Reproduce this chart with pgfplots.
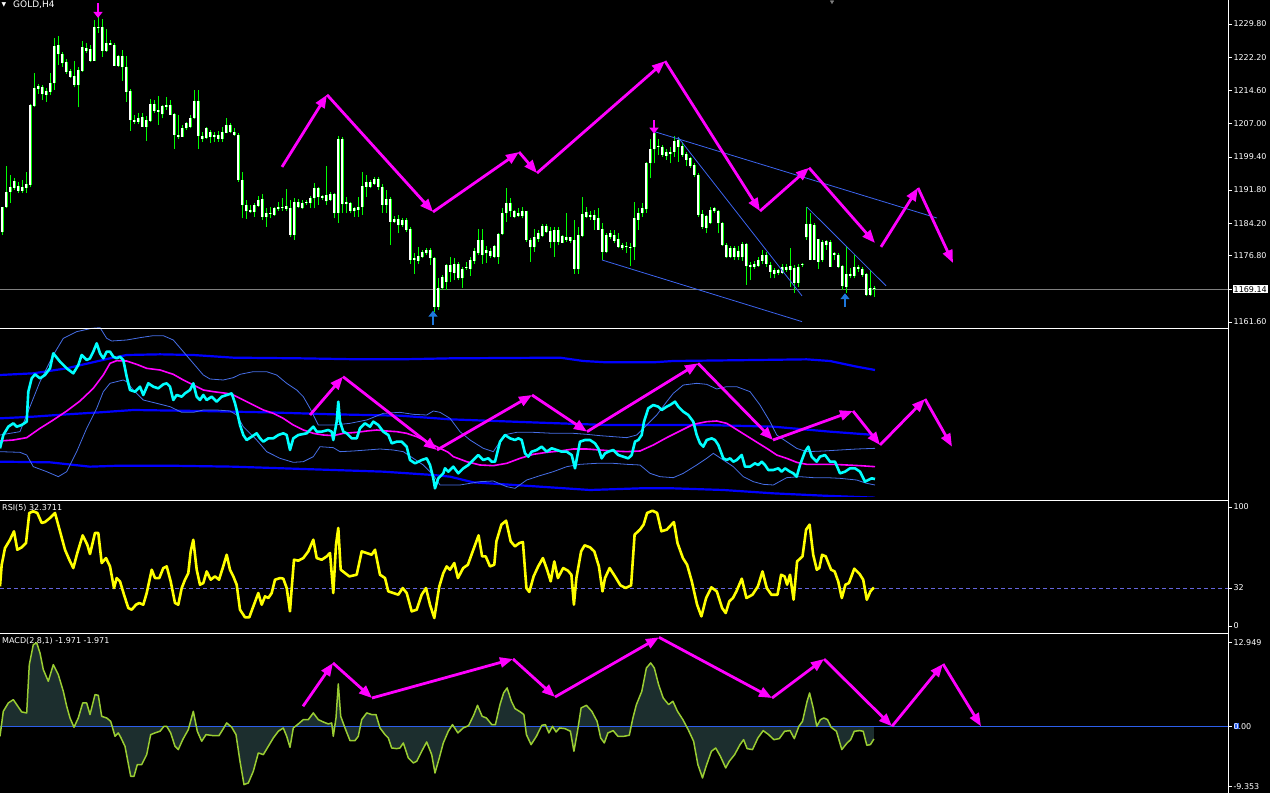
\documentclass[border=0pt]{standalone}
\usepackage{pgfplots}
\pgfplotsset{compat=1.18}
\usepackage{pgfplotstable}
\usepackage{fontspec}
\setmainfont{DejaVu Sans}
\usetikzlibrary{arrows.meta}

\definecolor{mtlime}{RGB}{0,255,0}
\definecolor{mtmag}{RGB}{255,0,255}
\definecolor{mtcyan}{RGB}{0,255,255}
\definecolor{mtblue}{RGB}{0,0,255}
\definecolor{mtband}{RGB}{70,110,230}
\definecolor{mttl}{RGB}{60,100,240}
\definecolor{mtyel}{RGB}{255,255,0}
\definecolor{mtmacd}{RGB}{154,205,50}
\definecolor{mthist}{RGB}{28,46,46}
\definecolor{mtlvl}{RGB}{100,100,220}
\definecolor{mtzero}{RGB}{45,95,235}
\definecolor{mtarr}{RGB}{30,120,220}
\definecolor{mtgray}{RGB}{128,128,128}

\newcommand{\tickfont}{\fontsize{8}{9}\selectfont}

% GOLD H4 candles: x (pixel column), high, low, body top, body bottom
\pgfplotstableread{
x hi lo top bot
2 1188.0 1181.5 1187.9 1182.1
6 1197.2 1187.6 1191.3 1187.9
10 1195.2 1188.8 1192.4 1191.4
14 1194.5 1191.8 1193.9 1192.3
18 1193.7 1191.1 1192.7 1191.7
22 1194.1 1191.2 1192.4 1191.6
26 1196.0 1191.1 1193.2 1192.3
30 1211.6 1192.4 1211.3 1193.0
34 1218.5 1210.9 1215.1 1211.0
38 1216.1 1213.8 1215.6 1214.9
42 1215.8 1212.4 1215.3 1213.7
46 1215.1 1212.0 1214.5 1213.5
50 1218.7 1213.5 1216.2 1214.3
54 1226.7 1214.7 1224.8 1216.2
58 1227.1 1220.4 1225.0 1222.9
62 1223.5 1220.0 1222.9 1220.8
66 1221.7 1218.4 1221.0 1218.9
70 1219.6 1217.4 1219.0 1217.7
74 1221.4 1215.3 1217.9 1215.8
78 1220.0 1210.7 1219.3 1215.8
82 1225.8 1218.9 1224.5 1219.1
86 1225.4 1223.1 1224.4 1223.6
90 1225.0 1221.2 1224.0 1221.3
94 1230.6 1221.4 1229.0 1221.4
98 1231.4 1227.7 1229.2 1228.8
102 1230.9 1222.3 1229.0 1223.7
106 1228.6 1223.5 1225.5 1223.7
110 1226.1 1225.0 1225.5 1225.1
114 1225.5 1220.2 1225.1 1220.3
118 1222.7 1220.0 1222.5 1220.3
122 1223.9 1216.8 1222.5 1219.9
126 1222.5 1212.0 1219.9 1214.3
130 1214.9 1205.4 1214.5 1207.8
134 1209.0 1206.9 1207.8 1207.4
138 1209.4 1206.9 1208.4 1207.4
142 1209.4 1206.2 1208.6 1206.3
146 1208.8 1203.1 1207.8 1206.3
150 1212.6 1207.4 1211.5 1207.6
154 1212.4 1209.5 1211.5 1209.9
158 1213.3 1206.8 1210.1 1209.7
162 1211.3 1208.2 1211.0 1209.1
166 1213.2 1210.1 1211.3 1210.9
170 1212.4 1209.0 1211.3 1209.0
174 1209.4 1201.3 1209.2 1204.4
178 1209.0 1203.6 1204.5 1203.9
182 1206.7 1203.9 1206.1 1204.0
186 1207.4 1205.5 1207.1 1205.9
190 1209.0 1205.9 1208.4 1206.3
194 1214.7 1208.0 1212.2 1208.2
198 1214.7 1201.3 1212.2 1204.2
202 1205.2 1202.9 1204.2 1203.6
206 1206.3 1203.4 1205.9 1203.8
210 1205.5 1202.6 1205.2 1204.0
214 1205.2 1202.9 1204.4 1203.9
218 1205.4 1202.9 1204.4 1203.6
222 1206.3 1202.9 1205.0 1203.6
226 1208.4 1204.8 1206.8 1204.9
230 1207.1 1204.9 1206.7 1205.2
234 1205.9 1204.2 1205.0 1204.4
238 1204.8 1193.7 1204.4 1194.1
242 1196.0 1185.3 1194.2 1188.4
246 1189.5 1185.2 1188.4 1186.9
250 1188.4 1186.5 1187.2 1186.7
254 1188.8 1185.7 1188.4 1186.7
258 1190.4 1187.9 1189.5 1188.2
262 1191.0 1184.9 1189.7 1185.6
266 1187.6 1183.4 1186.5 1185.6
270 1188.0 1185.3 1186.6 1186.3
274 1188.0 1185.9 1187.6 1186.1
278 1189.1 1187.1 1188.0 1187.4
282 1189.9 1187.1 1188.0 1187.6
286 1192.0 1187.1 1188.1 1187.5
290 1189.5 1181.1 1187.6 1181.5
294 1189.9 1180.4 1189.1 1181.5
298 1189.7 1187.6 1189.1 1188.0
302 1189.5 1187.4 1188.9 1187.6
306 1189.5 1188.4 1189.1 1188.8
310 1190.4 1187.6 1189.9 1188.8
314 1193.5 1187.6 1192.2 1189.9
318 1192.6 1188.4 1192.2 1190.3
322 1190.7 1189.5 1190.4 1190.1
326 1197.2 1188.4 1190.7 1189.2
330 1191.4 1189.2 1191.0 1189.5
334 1191.2 1185.3 1190.9 1186.5
338 1204.2 1184.3 1203.6 1186.5
342 1204.0 1186.5 1203.6 1188.6
346 1190.3 1186.5 1189.1 1188.6
350 1189.1 1186.5 1188.8 1187.1
354 1188.0 1185.7 1187.6 1186.9
358 1190.3 1185.7 1188.0 1187.2
362 1196.0 1186.1 1192.7 1187.9
366 1195.2 1190.3 1193.7 1192.6
370 1194.1 1192.2 1193.7 1192.6
374 1194.9 1193.0 1194.3 1193.2
378 1194.9 1191.8 1194.3 1192.6
382 1193.3 1186.5 1192.6 1188.4
386 1191.8 1186.5 1189.7 1188.4
390 1190.3 1179.2 1189.7 1184.6
394 1185.9 1184.2 1185.1 1184.6
398 1186.1 1181.9 1185.1 1183.8
402 1185.3 1183.4 1185.0 1183.8
406 1185.3 1182.3 1185.0 1182.7
410 1183.4 1175.0 1183.0 1175.9
414 1177.3 1172.6 1176.2 1175.8
418 1178.7 1174.9 1176.7 1175.6
422 1178.1 1176.2 1177.7 1176.6
426 1178.5 1176.9 1178.1 1177.3
430 1178.5 1174.7 1178.1 1176.2
434 1176.6 1164.0 1176.2 1165.1
438 1171.6 1164.4 1169.3 1165.1
442 1172.4 1168.9 1172.0 1169.3
446 1175.0 1168.9 1174.7 1170.8
450 1176.6 1170.8 1174.7 1173.1
454 1176.2 1171.2 1175.0 1172.9
458 1175.4 1171.2 1175.0 1171.6
462 1174.3 1169.5 1173.7 1171.6
466 1175.4 1173.5 1174.3 1173.9
470 1176.6 1172.1 1175.8 1173.7
474 1178.5 1174.9 1177.9 1175.6
478 1182.8 1176.9 1180.4 1177.3
482 1182.8 1175.0 1180.4 1176.9
486 1178.9 1175.2 1178.2 1177.3
490 1178.5 1176.2 1177.9 1176.7
494 1179.2 1176.2 1178.9 1176.6
498 1181.9 1175.0 1181.7 1176.6
502 1187.6 1181.5 1186.5 1181.7
506 1192.2 1184.6 1188.9 1186.5
510 1189.9 1185.7 1188.9 1186.9
514 1187.2 1185.3 1186.9 1185.7
518 1187.6 1185.6 1186.5 1185.9
522 1188.0 1185.3 1186.9 1185.9
526 1187.1 1180.0 1186.9 1180.4
530 1180.8 1175.4 1180.4 1178.7
534 1182.8 1177.7 1181.0 1178.7
538 1182.7 1180.0 1181.9 1180.5
542 1184.0 1181.0 1183.6 1181.3
546 1184.0 1181.9 1183.6 1182.3
550 1183.4 1178.5 1182.5 1180.0
554 1183.4 1176.6 1182.7 1180.0
558 1183.4 1179.2 1182.7 1180.0
562 1181.5 1179.6 1181.3 1179.8
566 1186.5 1180.0 1181.1 1180.4
570 1181.1 1179.6 1181.0 1180.2
574 1184.9 1172.7 1180.4 1173.7
578 1183.4 1172.7 1181.5 1173.7
582 1190.3 1181.0 1186.3 1181.3
586 1188.0 1185.3 1186.7 1185.6
590 1186.9 1184.9 1186.1 1185.6
594 1187.2 1182.7 1186.1 1184.9
598 1187.6 1182.7 1185.3 1182.7
602 1184.2 1175.9 1182.8 1177.7
606 1182.0 1177.3 1181.5 1177.7
610 1182.7 1180.7 1181.9 1181.1
614 1182.7 1179.6 1181.5 1180.2
618 1181.9 1178.5 1180.7 1178.8
622 1179.8 1178.2 1179.2 1178.5
626 1180.0 1177.3 1179.0 1178.7
630 1179.6 1174.4 1178.8 1178.5
634 1189.1 1175.8 1185.3 1178.8
638 1187.6 1182.7 1186.5 1185.0
642 1188.8 1185.7 1187.6 1186.5
646 1198.3 1186.5 1197.9 1187.4
650 1203.6 1194.5 1201.1 1197.9
654 1205.9 1197.9 1204.8 1201.1
658 1203.4 1199.8 1201.9 1201.6
662 1202.1 1199.4 1201.7 1199.8
666 1201.1 1198.7 1200.6 1199.6
670 1201.7 1197.9 1200.6 1200.0
674 1204.2 1199.4 1203.1 1200.6
678 1204.0 1198.3 1203.3 1201.7
682 1202.9 1199.4 1201.9 1199.8
686 1200.6 1197.2 1200.0 1198.7
690 1199.4 1196.8 1199.1 1197.2
694 1197.9 1194.9 1197.5 1195.3
698 1195.8 1185.7 1195.3 1186.1
702 1187.2 1183.0 1186.3 1183.4
706 1186.1 1181.9 1185.9 1183.2
710 1188.0 1184.0 1187.2 1184.2
714 1188.0 1186.5 1187.6 1186.9
718 1187.2 1181.9 1186.9 1184.2
722 1184.6 1178.9 1184.2 1179.2
726 1179.6 1176.2 1179.2 1176.4
730 1178.9 1176.2 1178.5 1176.6
734 1178.9 1175.9 1178.5 1176.6
738 1178.9 1175.8 1177.9 1176.4
742 1180.0 1175.6 1179.5 1176.4
746 1179.8 1170.1 1179.5 1174.4
750 1175.4 1171.2 1174.7 1174.3
754 1175.6 1173.7 1175.0 1174.3
758 1176.4 1174.3 1175.8 1174.4
762 1178.2 1175.0 1176.9 1175.6
766 1177.7 1174.3 1176.9 1175.0
770 1175.4 1171.6 1174.7 1173.1
774 1173.9 1171.6 1173.4 1172.6
778 1173.7 1172.4 1173.4 1172.9
782 1175.0 1172.6 1174.3 1172.9
786 1175.0 1173.1 1174.3 1173.5
790 1178.5 1169.7 1174.4 1173.5
794 1174.7 1168.3 1173.9 1170.6
798 1175.0 1169.7 1174.3 1170.6
802 1175.2 1174.3 1175.0 1174.7
806 1188.0 1180.4 1184.0 1181.0
810 1186.5 1175.8 1184.0 1175.9
814 1184.2 1175.8 1183.8 1175.9
818 1180.7 1173.7 1180.5 1175.4
822 1180.4 1175.4 1180.0 1175.8
826 1180.4 1178.2 1180.2 1179.2
830 1180.4 1174.3 1180.0 1174.3
834 1177.7 1175.8 1177.3 1176.9
838 1177.3 1173.9 1176.9 1174.3
842 1174.7 1168.9 1174.4 1169.8
846 1179.0 1168.2 1172.6 1169.7
850 1173.9 1171.6 1172.6 1172.1
854 1176.9 1171.6 1174.3 1172.1
858 1174.7 1173.1 1174.3 1173.7
862 1174.3 1172.0 1173.7 1172.4
866 1172.9 1167.6 1172.6 1167.8
870 1173.5 1167.6 1169.3 1167.8
874 1169.8 1167.4 1169.5 1169.3
}\candles

% second window: main line, its average, thin bands, wide envelope (no scale shown)
\pgfplotstableread{
x v
0 230
3.3 270
8.3 295
13.3 305
16.7 295
21.7 300
26.7 310
28.3 400
31.7 440
35 452
40 440
45 450
50 470
53.3 515
60 490
66.7 470
73.3 455
78.3 480
81.7 510
86.7 495
90 500
93.3 520
96.7 545
100 515
103.3 500
106.7 520
110 520
113.3 505
116.7 500
120 505
123.3 495
126.7 445
130 405
135 400
140 415
143.3 390
148.3 425
153.3 415
158.3 410
163.3 422
166.7 425
170 415
173.3 375
176.7 390
181.7 385
185 395
190 405
193.3 425
196.7 385
200 375
203.3 390
206.7 375
211.7 385
216.7 370
221.7 385
226.7 390
231.7 395
235 365
236.7 345
240 300
243.3 270
246.7 255
251.7 265
256.7 275
260 260
263.3 250
268.3 260
273.3 260
278.3 270
283.3 275
286.7 270
290 225
293.3 260
298.3 270
306.7 275
313.3 295
316.7 280
321.7 280
328.3 285
331.7 280
333.3 255
336.7 310
338.3 370
340 310
343.3 280
346.7 275
351.7 260
356.7 260
360 290
365 305
370 295
373.3 310
378.3 300
383.3 280
388.3 270
391.7 245
396.7 250
401.7 250
406.7 235
410 195
415 185
421.7 195
426.7 200
430 180
433.3 140
435 110
438.3 140
443.3 155
445 170
448.3 160
453.3 175
458.3 155
463.3 170
468.3 180
473.3 195
478.3 210
483.3 195
488.3 200
491.7 190
495 190
500 250
505 270
510 260
515 255
518.3 260
521.7 255
525 215
528.3 205
531.7 220
536.7 225
541.7 235
546.7 220
551.7 230
556.7 225
561.7 220
566.7 220
571.7 210
575 170
580 250
585 255
590 255
595 245
598.3 230
601.7 200
605 215
608.3 220
613.3 225
618.3 210
623.3 205
628.3 200
631.7 210
635 250
638.3 255
641.7 270
644 310
648.3 350
653.3 360
658.3 355
661.7 345
666.7 355
670 360
675 370
678.3 355
683.3 340
688.3 330
693.3 310
696.7 270
700 245
703.3 235
706.7 255
711.7 260
715 255
718.3 240
723.3 200
726.7 195
730 200
733.3 190
736.7 195
741.7 210
745 175
750 175
755 185
758.3 180
761.7 190
765 180
768.3 165
773.3 165
778.3 170
781.7 160
785 170
790 160
793.3 155
796.7 145
800 180
805 220
808.3 235
811.7 205
816.7 190
820 205
825 210
830 190
835 190
840 155
845 160
850 170
855 170
860 160
865 130
868.3 135
871.7 140
875 138
}\wmain

\pgfplotstableread{
x v
0 252
13.3 255
26.7 262
40 290
53.3 315
66.7 342
80 372
93.3 410
103.3 450
110 485
116.7 493
126.7 492
136.7 482
146.7 470
160 465
173.3 452
183.3 435
193.3 420
203.3 405
213.3 400
226.7 395
233.3 390
243.3 375
253.3 360
263.3 345
273.3 335
283.3 320
293.3 300
303.3 285
313.3 275
323.3 270
333.3 268
343.3 275
356.7 278
366.7 282
376.7 285
386.7 282
396.7 280
406.7 275
416.7 265
426.7 250
436.7 235
448.3 218
453.3 205
466.7 190
480 180
493.3 178
506.7 185
520 200
533.3 212
546.7 218
560 222
573.3 228
586.7 228
600 225
613.3 222
626.7 220
640 222
653.3 240
666.7 262
680 282
693.3 302
706.7 310
716.7 312
726.7 305
740 280
753.3 255
766.7 230
776.7 210
786.7 200
796.7 188
806.7 182
820 182
833.3 182
846.7 180
860 178
875 175
}\wavg

\pgfplotstableread{
x v
0 270
20 280
33.3 380
40 430
53.3 510
63.3 560
76.7 580
91.7 590
100 592
106.7 560
111.7 552
126.7 555
140 562
153.3 568
163.3 568
173.3 555
183.3 520
193.3 485
203.3 450
210 438
223.3 435
233.3 442
240 452
253.3 460
266.7 460
276.7 450
286.7 425
296.7 405
303.3 385
310 350
318.3 300
333.3 300
350 305
366.7 315
383.3 335
400 338
413.3 332
426.7 330
433.3 342
440 338
450 320
460 280
470 255
483.3 230
493.3 220
500 250
506.7 272
516.7 278
533.3 278
553.3 275
573.3 275
586.7 272
600 268
613.3 265
626.7 262
636.7 270
646.7 300
656.7 330
666.7 370
673.3 395
683.3 420
696.7 425
706.7 422
716.7 408
726.7 415
736.7 415
750 400
760 360
770 310
776.7 270
786.7 250
796.7 230
806.7 220
823.3 222
840 225
856.7 228
875 230
}\wup

\pgfplotstableread{
x v
0 220
20 218
26.7 210
33.3 175
46.7 160
58.3 145
66.7 160
76.7 220
86.7 290
96.7 350
103.3 400
110 425
123.3 435
126.7 430
133.3 405
143.3 375
156.7 365
170 355
181.7 338
193.3 338
203.3 345
216.7 345
230 342
236.7 330
243.3 295
256.7 255
266.7 220
280 200
293.3 188
303.3 190
313.3 205
320 235
333.3 232
340 220
353.3 222
366.7 225
380 228
393.3 225
403.3 220
413.3 200
423.3 180
433.3 150
440 120
460 120
480 130
493.3 132
506.7 115
515 110
526.7 135
540 148
553.3 160
566.7 175
580 182
596.7 185
613.3 185
626.7 182
640 180
650 155
660 145
673.3 142
683.3 155
696.7 180
706.7 200
713.3 215
723.3 195
733.3 175
743.3 145
753.3 130
763.3 122
773.3 120
786.7 142
800 145
813.3 142
826.7 142
840 140
856.7 135
866.7 125
875 120
}\wlow

\pgfplotstableread{
x v
0 450
33.3 455
66.7 470
110 500
126.7 510
160 512
193.3 510
233.3 502
300 500
360 497
400 497
450 500
560 502
583.3 492
606.7 488
653.3 488
673.3 492
756.7 495
806.7 497
830 492
856.7 475
875 465
}\envtop

\pgfplotstableread{
x v
0 320
33.3 325
66.7 332
100 338
133.3 345
200 342
266.7 338
333.3 332
400 328
450 317
540 307
606.7 300
706.7 300
773.3 295
830 280
875 270
}\envmid

\pgfplotstableread{
x v
0 190
50 188
90 175
120 178
166.7 178
233.3 175
283.3 170
333.3 165
383.3 160
433.3 150
450 145
473.3 128
540 115
590 105
640 110
673.3 110
723.3 105
773.3 95
823.3 88
875 82
}\envlow

\pgfplotstableread{
x rsi
0 33.3
1.7 51.5
5 65.5
10 72.5
14 79.6
17.3 64.1
21.7 66.1
26 69.7
29.3 95.0
33.3 96.4
37.3 95.0
41.7 86.6
45 87.4
50 90.8
55 95.0
60 79.6
65 64.1
69.3 55.7
73.3 48.7
77.3 61.3
82.7 76.2
87.3 68.3
90 60.5
95 78.2
98.3 78.2
101.7 52.9
106 57.1
110 50.1
114 31.9
116.7 40.3
120 37.5
124 26.3
128.3 15.1
131.7 13.7
136 17.9
139.3 19.3
143.3 17.9
146.7 27.7
151.7 47.3
155 40.3
159.3 40.3
163.3 48.7
166.7 50.1
170.7 37.5
175 19.3
178.3 17.9
181.7 31.9
185 38.9
188.3 44.5
190.7 62.7
193.3 72.5
196.7 47.3
200 34.7
203.3 36.1
206.7 45.9
210.7 38.9
215 41.7
219 38.9
222.7 48.7
226.7 59.9
230 47.3
233.3 41.7
236.7 34.7
240 13.7
245 7.3
249.3 7.3
252.7 15.1
258.3 27.7
261.7 17.9
265 24.9
268.3 23.5
271.7 27.7
275 38.9
280 40.3
283.3 39.8
286.7 31.9
290 12.3
291.7 31.9
294 55.7
298.3 54.9
303.3 57.1
308.3 62.7
313.3 72.5
316.7 57.1
321.7 55.7
326.7 58.5
330 61.3
333.3 27.7
336 68.3
338.3 82.4
340.7 47.3
345 44.5
349.3 41.7
356.7 43.1
361.7 62.7
366.7 61.3
371.7 59.9
375 64.1
380 43.1
385 40.3
388.3 29.1
393.3 27.7
398.3 26.3
402.7 31.9
406.7 27.7
411.7 12.3
416.7 13.7
421.7 26.3
426 31.9
430 17.9
434.3 6.7
439.3 33.3
443.3 44.5
446.7 50.1
450 47.3
454.3 52.9
457.9 40.3
463.2 48.7
467.9 51.5
472.1 61.3
478.6 76.2
482.1 58.5
485.7 58.5
490 50.1
494.3 51.5
496.4 71.1
501.4 85.2
506.1 88.5
510.7 71.1
515 66.9
519.3 69.7
522.9 70.6
526.4 31.9
529.3 28.6
533.6 41.7
538.2 50.1
542.9 57.1
547.1 47.3
550.7 37.5
554.3 54.3
557.9 40.3
563.2 48.7
567.9 46.5
571.4 43.1
573.9 17.9
576.4 40.3
581.1 62.7
584.6 67.8
590 66.1
594.3 62.7
598.9 50.1
602.5 29.1
605 40.3
609.6 48.7
615 41.7
620.4 34.2
625.7 31.9
631.1 34.2
634.6 76.8
640 81.0
643.6 85.2
647.1 95.0
652.5 96.9
657.1 95.0
661.4 79.6
666.8 81.0
673.9 87.4
677.5 69.7
682.9 57.1
687.1 51.5
691.8 37.5
697.1 17.9
701.4 8.1
706.1 23.5
711.4 32.5
716.8 29.1
722.1 15.1
725.7 10.9
729.3 20.7
732.9 23.5
736.4 29.1
741.8 39.8
746.4 23.5
752.5 26.3
757.9 33.3
762.5 45.9
766.8 31.9
771.4 26.3
777.5 26.3
781.1 43.1
784.6 41.7
787.1 34.7
790 43.1
793.6 22.1
797.1 54.3
802.5 58.5
806.1 81.0
809.6 85.2
813.2 59.9
816.8 47.3
819.3 48.7
822.1 59.9
825.7 58.5
831.1 47.3
834.6 45.9
838.2 37.5
841.8 23.5
845.4 34.7
848.9 36.1
854.3 48.2
859.6 43.7
863.2 38.9
866.8 22.1
870.4 29.1
873.9 32.4
}\rsi

\pgfplotstableread{
x m
0 -1.55
3.3 2.32
8.3 3.61
13.3 4.13
16.7 3.36
21.7 2.22
26.7 2.07
29.3 9.55
33.3 12.65
36.7 12.91
40 11.36
43.3 8.78
48.3 6.97
53.3 9.55
58.3 8.00
63.3 5.42
66.7 3.10
70 1.29
74 -0.15
78.3 1.29
82.7 3.61
86.7 3.61
90 1.81
95 4.90
98.3 4.80
101.7 1.55
106.7 1.29
110.7 0.77
115 -1.55
118.3 -1.03
120.7 -1.70
125 -3.10
130.7 -7.74
134 -7.74
137.3 -5.94
141.7 -5.94
146.7 -4.39
150.7 -1.29
155 -1.03
160 -0.77
164 0
166.7 0
170.7 -1.03
175 -3.10
178.3 -3.61
182.7 -2.07
188.3 -0.52
193.3 2.32
197.3 -0.77
201.7 -2.32
206 -1.29
213.3 -1.45
219 -1.45
222.7 -0.52
226.7 0.52
231.7 -0.15
236 -1.29
240 -5.42
244 -9.03
248.3 -8.78
253.3 -6.97
258.3 -4.13
263.3 -4.39
268.3 -3.10
273.3 -1.81
278.3 -0.77
283.3 -0.26
286.7 -1.55
290 -3.25
293.3 -0.26
298.3 0.36
303.3 1.03
308.3 1.03
313.3 2.07
318.3 1.03
323.3 0.67
328.3 0.36
331.7 0.52
333.3 -1.55
336 1.29
338.3 6.56
340.7 1.55
345 -0.26
350 -2.22
355 -2.22
358.3 -1.55
361.7 1.03
366.7 2.07
371.7 1.81
376 1.81
380 -0.26
385 -1.29
388.3 -1.81
391.7 -3.36
396.7 -3.46
400 -3.36
403.3 -2.58
408.3 -4.90
413.3 -5.68
416.7 -5.42
421.7 -3.87
426.7 -2.43
431.7 -4.39
435 -7.23
439.3 -4.90
443.3 -2.58
448.3 -0.77
452.5 0.26
457.9 -1.03
463.2 -0.26
468.6 0.10
473.9 1.81
477.5 3.25
482.1 1.55
486.4 1.29
491.8 0.26
495.4 0.26
500 3.36
503.6 5.16
507.1 5.94
511.4 3.87
515 2.74
520.4 2.22
523.9 1.81
526.4 -1.29
531.1 -2.84
536.4 -1.55
541.8 0.15
545.4 0.26
548.9 -1.03
552.5 0
556.1 -0.88
559.6 -0.26
565 -0.36
570.4 -0.77
573.9 -3.87
577.5 -0.77
581.1 2.84
586.4 3.25
591.8 2.32
597.1 0.77
600.7 -1.81
604.3 -2.58
607.9 -1.03
613.2 -0.67
617.9 -1.55
623.9 -1.55
629.3 -1.39
632.9 1.29
636.4 3.36
641.8 5.42
646.4 9.03
650.7 9.81
654.3 9.03
658.6 6.45
663.2 4.39
668.6 3.36
672.9 3.87
677.5 2.32
682.9 1.03
688.2 -0.52
693.6 -2.32
697.9 -5.94
702.5 -8.00
706.1 -6.20
711.4 -3.87
715.7 -3.36
720.4 -4.65
725.7 -6.45
729.3 -5.42
734.6 -4.39
740 -2.84
743.6 -2.07
747.1 -3.46
752.5 -3.61
757.9 -1.81
763.2 -0.67
768.6 -1.29
773.9 -2.07
779.3 -1.91
784.6 -0.77
790 -0.67
794.3 -1.91
798.9 0
802.5 0.77
807.1 3.87
809.6 5.16
813.2 2.84
816.8 0
820.4 1.03
823.9 1.29
827.5 1.03
831.1 -0.15
836.4 -0.77
841.8 -3.61
847.1 -2.58
850.7 -2.07
854.3 -0.77
859.6 -0.67
863.2 -0.77
866.8 -2.94
870.4 -2.84
873.9 -1.97
}\macd

\pgfplotsset{
  mtpanel/.style={
    scale only axis, width=1228pt, anchor=south west,
    xmin=0, xmax=1228, xtick=\empty,
    axis line style={draw=none},
    ytick pos=right, yticklabel pos=right,
    tick align=outside, major tick length=4pt,
    y tick style={draw=white, line width=0.6pt},
    yticklabel style={text=white, font=\tickfont, inner sep=0.8pt, xshift=0.5pt},
  },
  zz/.style={draw=mtmag, line width=2.8pt, -{Triangle[length=13pt,width=10pt]}},
  sig/.style={line width=2.2pt, -{Triangle[length=6pt,width=9pt]}},
}

\begin{document}
\begin{tikzpicture}
\fill[black] (0pt,0pt) rectangle (1270pt,793pt);

\node[anchor=west, inner sep=0pt, text=white, font=\fontsize{6}{6}\selectfont] at (1.5pt,788pt) {▼};
\node[anchor=west, inner sep=0pt, text=white, font=\fontsize{9}{10}\selectfont] at (13pt,788pt) {GOLD,H4};
\node[anchor=west, inner sep=0pt, text=white, font=\fontsize{8}{9}\selectfont] at (2pt,285pt) {RSI(5) 32.3711};
\node[anchor=west, inner sep=0pt, text=white, font=\fontsize{8}{9}\selectfont] at (2pt,152pt) {MACD(2,8,1) -1.971 -1.971};

% ---------- main window ----------
\begin{axis}[mtpanel, at={(0pt,468pt)}, height=325pt,
  ymin=1160.93, ymax=1235.29,
  ytick={1161.6,1176.8,1184.2,1191.8,1199.4,1207.0,1214.6,1222.2,1229.8},
  yticklabels={1161.60,1176.80,1184.20,1191.80,1199.40,1207.00,1214.60,1222.20,1229.80},
  extra y ticks={1169.14}, extra y tick labels={1169.14},
  extra y tick style={yticklabel style={fill=white, text=black, inner sep=1pt}},
]
\addplot[mtgray, line width=0.8pt] coordinates {(0,1169.14) (1228,1169.14)};
\addplot[draw=none, error bars/.cd, y dir=plus, y explicit, error mark=none,
  error bar style={draw=mtlime, line width=1pt}]
  table[x=x, y=lo, y error plus expr={\thisrow{hi}-\thisrow{lo}}] {\candles};
\addplot[draw=none, error bars/.cd, y dir=plus, y explicit, error mark=none,
  error bar style={draw=mtlime, line width=3pt}]
  table[x=x, y=bot, y error plus expr={\thisrow{top}-\thisrow{bot}}] {\candles};
\addplot[draw=none, error bars/.cd, y dir=plus, y explicit, error mark=none,
  error bar style={draw=white, line width=1.2pt}]
  table[x=x, y=bot, y error plus expr={\thisrow{top}-\thisrow{bot}}] {\candles};
% trend lines
\addplot[mttl, line width=0.8pt] coordinates {(654,1205.2) (937,1185.4)};
\addplot[mttl, line width=0.8pt] coordinates {(678,1203.9) (802,1167.6)};
\addplot[mttl, line width=0.8pt] coordinates {(602,1175.8) (802,1161.7)};
\addplot[mttl, line width=0.8pt] coordinates {(807,1187.9) (886,1169.9)};
% wave arrows
\addplot[zz] coordinates {(282,1197.1) (327,1213.6)};
\addplot[zz] coordinates {(327,1213.6) (433,1186.8)};
\addplot[zz] coordinates {(433,1186.8) (519,1200.5)};
\addplot[zz] coordinates {(519,1200.5) (537,1195.7)};
\addplot[zz] coordinates {(537,1195.7) (665,1221.3)};
\addplot[zz] coordinates {(665,1221.3) (760,1187.0)};
\addplot[zz] coordinates {(760,1187.0) (809,1196.9)};
\addplot[zz] coordinates {(809,1196.9) (875,1179.7)};
\addplot[zz] coordinates {(881,1178.8) (918,1192.3)};
\addplot[zz] coordinates {(918,1192.3) (953,1175.1)};
% fractal signals
\addplot[sig, draw=mtmag] coordinates {(98,1234.6) (98,1231.2)};
\addplot[sig, draw=mtmag] coordinates {(654,1207.8) (654,1204.7)};
\addplot[sig, draw=mtarr] coordinates {(433,1160.9) (433,1164.2)};
\addplot[sig, draw=mtarr] coordinates {(845,1165.0) (845,1168.2)};
\addplot[only marks, mark=triangle*, mark size=2pt, mtgray, mark options={rotate=180}] coordinates {(832,1234.9)};
\draw[white, line width=0.8pt] (rel axis cs:0,0) -- (rel axis cs:1,0);
\end{axis}

% ---------- second window ----------
\begin{axis}[mtpanel, at={(0pt,296pt)}, height=169pt,
  ymin=84, ymax=591, ytick=\empty]
\addplot[mtblue, line width=2.2pt] table[x=x, y=v] {\envtop};
\addplot[mtblue, line width=2.2pt] table[x=x, y=v] {\envmid};
\addplot[mtblue, line width=2.2pt] table[x=x, y=v] {\envlow};
\addplot[mtband, line width=0.8pt] table[x=x, y=v] {\wup};
\addplot[mtband, line width=0.8pt] table[x=x, y=v] {\wlow};
\addplot[mtmag, line width=1.6pt] table[x=x, y=v] {\wavg};
\addplot[mtcyan, line width=2.6pt, line join=round] table[x=x, y=v] {\wmain};
\addplot[zz] coordinates {(310,330) (343,445)};
\addplot[zz] coordinates {(343,445) (437,225)};
\addplot[zz] coordinates {(437,225) (532,390)};
\addplot[zz] coordinates {(532,390) (587,280)};
\addplot[zz] coordinates {(587,280) (698,485)};
\addplot[zz] coordinates {(698,485) (773,255)};
\addplot[zz] coordinates {(773,255) (853,342)};
\addplot[zz] coordinates {(853,342) (880,240)};
\addplot[zz] coordinates {(880,240) (925,378)};
\addplot[zz] coordinates {(925,378) (952,235)};
\draw[white, line width=0.8pt] (rel axis cs:0,0) -- (rel axis cs:1,0);
\draw[white, line width=0.8pt] (rel axis cs:0,1) -- (rel axis cs:1,1);
\end{axis}

% ---------- RSI window ----------
\begin{axis}[mtpanel, at={(0pt,162pt)}, height=131pt,
  ymin=-4.2, ymax=105.9,
  ytick={0,32,100}, yticklabels={0,32,100}]
\addplot[mtlvl, line width=0.8pt, dash pattern=on 4pt off 3pt] coordinates {(0,32) (1228,32)};
\addplot[mtyel, line width=2.6pt, line join=round] table[x=x, y=rsi] {\rsi};
\draw[white, line width=0.8pt] (rel axis cs:0,0) -- (rel axis cs:1,0);
\draw[white, line width=0.8pt] (rel axis cs:0,1) -- (rel axis cs:1,1);
\end{axis}

% ---------- MACD window ----------
\begin{axis}[mtpanel, at={(0pt,0pt)}, height=159.5pt,
  ymin=-10.33, ymax=14.37,
  ytick={-9.353,0,12.949},
  yticklabels={-9.353,{{\setlength{\fboxsep}{0pt}\colorbox{mtzero}{0}}.00},12.949}]
\addplot[fill=mthist, draw=none] table[x=x, y=m] {\macd} \closedcycle;
\addplot[mtzero, line width=1pt] coordinates {(0,0) (1228,0)};
\addplot[mtmacd, line width=1.5pt, line join=round] table[x=x, y=m] {\macd};
\addplot[zz] coordinates {(303,3.10) (333,9.80)};
\addplot[zz] coordinates {(333,9.80) (372,4.38)};
\addplot[zz] coordinates {(372,4.38) (513,10.42)};
\addplot[zz] coordinates {(513,10.42) (555,4.54)};
\addplot[zz] coordinates {(555,4.54) (659,13.78)};
\addplot[zz] coordinates {(659,13.78) (772,4.38)};
\addplot[zz] coordinates {(772,4.38) (824,10.42)};
\addplot[zz] coordinates {(824,10.42) (892,0)};
\addplot[zz] coordinates {(892,0) (943,9.65)};
\addplot[zz] coordinates {(943,9.65) (981,0)};
\draw[white, line width=0.8pt] (rel axis cs:0,1) -- (rel axis cs:1,1);
\end{axis}

\draw[white, line width=0.8pt] (1228pt,0pt) -- (1228pt,793pt);
\pgfresetboundingbox
\path[use as bounding box] (0pt,0pt) rectangle (1270pt,793pt);
\end{tikzpicture}
\end{document}
